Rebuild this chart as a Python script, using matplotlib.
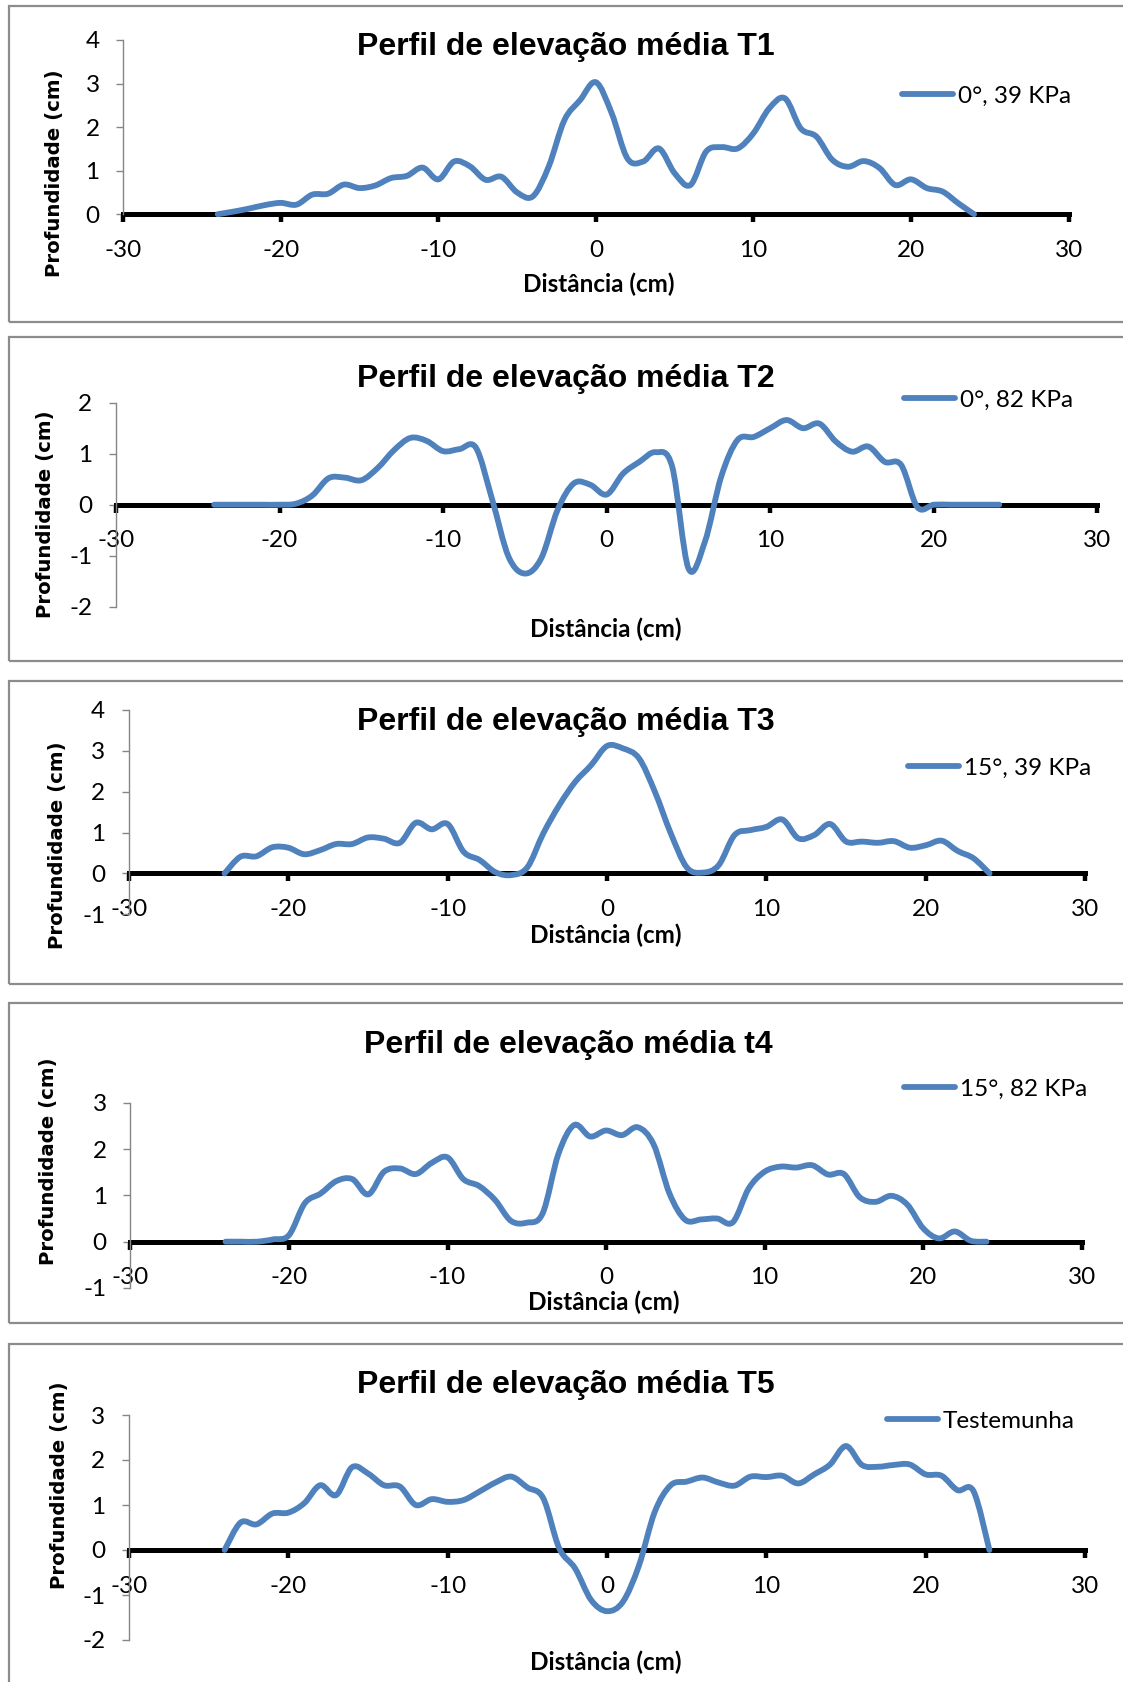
import numpy as np
import matplotlib
matplotlib.use("Agg")
import matplotlib.pyplot as plt
from matplotlib.path import Path
from matplotlib.patches import PathPatch, Rectangle
from matplotlib.lines import Line2D

# ---------------- data ----------------
distancia = [-24, -23, -22, -21, -20, -19, -18, -17, -16, -15, -14, -13, -12, -11, -10,
             -9, -8, -7, -6, -5, -4, -3, -2, -1, 0, 1, 2, 3, 4, 5, 6, 7, 8, 9, 10,
             11, 12, 13, 14, 15, 16, 17, 18, 19, 20, 21, 22, 23, 24]

t1 = [0.00, 0.06, 0.13, 0.21, 0.26, 0.22, 0.45, 0.47, 0.68, 0.60, 0.66, 0.83, 0.88, 1.07, 0.80,
      1.21, 1.10, 0.79, 0.86, 0.50, 0.41, 1.09, 2.16, 2.62, 3.03, 2.32, 1.28, 1.21, 1.51, 0.94,
      0.67, 1.44, 1.54, 1.51, 1.86, 2.43, 2.66, 1.97, 1.78, 1.25, 1.09, 1.22, 1.06, 0.67, 0.80,
      0.60, 0.52, 0.25, 0.00]

t2 = [0.00, 0.00, 0.00, 0.00, 0.00, 0.02, 0.18, 0.52, 0.53, 0.48, 0.72, 1.07, 1.31, 1.25, 1.05,
      1.09, 1.12, 0.10, -1.02, -1.35, -1.05, -0.10, 0.42, 0.39, 0.20, 0.61, 0.84, 1.03, 0.75, -1.25,
      -0.73, 0.55, 1.27, 1.33, 1.50, 1.66, 1.50, 1.59, 1.24, 1.04, 1.14, 0.84, 0.78, -0.05, 0.00,
      0.00, 0.00, 0.00, 0.00]

t3 = [0.00, 0.41, 0.42, 0.64, 0.63, 0.47, 0.57, 0.72, 0.72, 0.88, 0.85, 0.75, 1.24, 1.08, 1.21,
      0.53, 0.33, 0.03, -0.04, 0.15, 0.98, 1.67, 2.24, 2.65, 3.12, 3.06, 2.82, 2.00, 0.98, 0.15,
      0.02, 0.20, 0.94, 1.06, 1.14, 1.32, 0.86, 0.94, 1.21, 0.78, 0.78, 0.75, 0.79, 0.63, 0.69,
      0.80, 0.55, 0.37, 0.00]

t4 = [0.00, 0.00, 0.00, 0.05, 0.14, 0.83, 1.04, 1.31, 1.35, 1.02, 1.51, 1.58, 1.46, 1.70, 1.82,
      1.35, 1.20, 0.90, 0.45, 0.41, 0.61, 1.90, 2.52, 2.27, 2.40, 2.30, 2.47, 2.10, 1.04, 0.47,
      0.48, 0.50, 0.42, 1.15, 1.51, 1.62, 1.60, 1.65, 1.45, 1.46, 0.96, 0.86, 0.99, 0.80, 0.29,
      0.07, 0.22, 0.02, 0.00]

t5 = [0.00, 0.61, 0.57, 0.81, 0.83, 1.04, 1.44, 1.22, 1.84, 1.70, 1.44, 1.41, 1.00, 1.13, 1.07,
      1.11, 1.30, 1.50, 1.63, 1.39, 1.15, 0.04, -0.41, -1.11, -1.36, -1.15, -0.35, 0.85, 1.44, 1.52,
      1.61, 1.50, 1.43, 1.63, 1.62, 1.65, 1.48, 1.68, 1.90, 2.31, 1.89, 1.85, 1.89, 1.90, 1.68,
      1.65, 1.33, 1.31, 0.00]

titles = ["Perfil de elevação média T1", "Perfil de elevação média T2",
          "Perfil de elevação média T3", "Perfil de elevação média t4",
          "Perfil de elevação média T5"]
legend_labels = ["0°, 39 KPa", "0°, 82 KPa", "15°, 39 KPa", "15°, 82 KPa", "Testemunha"]
series = [t1, t2, t3, t4, t5]
y_limits = [(0, 4), (-2, 2), (-1, 4), (-1, 3), (-2, 3)]
x_ticks = [-30, -20, -10, 0, 10, 20, 30]
y_label = "Profundidade (cm)"
x_label = "Distância (cm)"

# ---------------- layout (pixels) ----------------
W, H = 1123, 1682
fig = plt.figure(figsize=(W / 100, H / 100), dpi=100)
fig.patch.set_facecolor("white")

# axes boxes: left, right, top, bottom (px)
ax_boxes = [(123.2, 1068.6, 40.0, 214.2),
            (116.0, 1097.4, 402.7, 606.7),
            (128.9, 1085.2, 710.0, 914.3),
            (130.4, 1081.7, 1102.7, 1288.0),
            (129.0, 1085.0, 1415.0, 1640.0)]
frames = [(6.0, 321.5), (337.0, 661.0), (680.7, 984.0), (1003.0, 1322.7), (1344.0, 1710.0)]
title_pos = [(566, 47.5), (566, 378.5), (566, 722.0), (568, 1045.0), (566, 1385.0)]
legend_pos = [(902, 96.0), (904, 400.0), (908, 768.3), (904, 1089.3), (887, 1421.0)]
ylab_pos = [(55, 173.3), (46, 513.7), (57, 845.0), (49, 1161.0), (60, 1485.0)]
xlab_pos = [(599, 284.5), (606, 629.0), (606, 935.7), (603.5, 1302.0), (606, 1662.0)]

BLUE = "#4F81BD"
GRAY = "#868686"
LW = 4.2
SMALL_FONT = ["Lato", "DejaVu Sans"]
SMALL_SIZE = 17.5


def fx(px):
    return px / W


def fy(py):
    return 1 - py / H


def smooth_path(x, y):
    pts = np.column_stack([np.asarray(x, float), np.asarray(y, float)])
    n = len(pts)
    verts = [pts[0]]
    codes = [Path.MOVETO]
    for i in range(n - 1):
        p0 = pts[i - 1] if i > 0 else pts[i]
        p1 = pts[i]
        p2 = pts[i + 1]
        p3 = pts[i + 2] if i + 2 < n else pts[i + 1]
        c1 = p1 + (p2 - p0) / 6.0
        c2 = p2 - (p3 - p1) / 6.0
        verts += [c1, c2, p2]
        codes += [Path.CURVE4] * 3
    return Path(verts, codes)


for k in range(5):
    # chart frame
    top, bot = frames[k]
    fig.patches.append(Rectangle((fx(8.6), fy(bot)), fx(1135) - fx(8.6), fy(top) - fy(bot),
                                 transform=fig.transFigure, fill=False,
                                 edgecolor="#8C8C8C", linewidth=1.6, zorder=0))

    l, r, t, b = ax_boxes[k]
    ax = fig.add_axes([fx(l), fy(b), fx(r) - fx(l), fy(t) - fy(b)])
    ax.set_facecolor("none")
    ax.set_xlim(-30, 30)
    ax.set_ylim(*y_limits[k])

    patch = PathPatch(smooth_path(distancia, series[k]), facecolor="none", edgecolor=BLUE,
                      linewidth=LW, capstyle="round", joinstyle="round", zorder=3,
                      clip_on=False)
    ax.add_patch(patch)

    for s in ["top", "right"]:
        ax.spines[s].set_visible(False)
    ax.spines["bottom"].set_position(("data", 0))
    ax.spines["bottom"].set_linewidth(3.6)
    ax.spines["bottom"].set_color("black")
    ax.spines["bottom"].set_zorder(2)
    ax.spines["left"].set_color(GRAY)
    ax.spines["left"].set_linewidth(1.0)

    ax.set_xticks(x_ticks)
    ax.set_xticklabels([str(v) for v in x_ticks])
    yl = y_limits[k]
    yt = list(range(yl[0], yl[1] + 1))
    ax.set_yticks(yt)
    ax.set_yticklabels([str(v) for v in yt])

    ax.tick_params(axis="x", direction="out", length=6.0, width=3.2, color="black", pad=12.5,
                   labelsize=SMALL_SIZE)
    ax.tick_params(axis="y", direction="out", length=5.0, width=1.0, color=GRAY, pad=12,
                   labelsize=SMALL_SIZE)
    for lab in ax.get_xticklabels() + ax.get_yticklabels():
        lab.set_family(SMALL_FONT)

    # title
    tx, ty = title_pos[k]
    fig.text(fx(tx), fy(ty), titles[k], ha="center", va="center",
             family=["Liberation Sans", "DejaVu Sans"], fontweight="bold", fontsize=23)

    # legend
    h = Line2D([], [], color=BLUE, linewidth=LW, solid_capstyle="round")
    lx, ly = legend_pos[k]
    ax.legend(handles=[h], labels=[legend_labels[k]], loc="center left",
              bbox_to_anchor=(fx(lx), fy(ly)), bbox_transform=fig.transFigure,
              frameon=False, borderpad=0, borderaxespad=0, handlelength=2.1,
              handletextpad=0.2, prop={"family": SMALL_FONT, "size": SMALL_SIZE})

    # axis labels
    yx, yy = ylab_pos[k]
    fig.text(fx(yx), fy(yy), y_label, rotation=90, ha="center", va="center",
             family=["DejaVu Sans"], fontweight="bold", fontsize=14.2)
    xx, xy = xlab_pos[k]
    fig.text(fx(xx), fy(xy), x_label, ha="center", va="center",
             family=SMALL_FONT, fontweight="bold", fontsize=SMALL_SIZE)

fig.savefig("out.png", dpi=100, facecolor="white")
